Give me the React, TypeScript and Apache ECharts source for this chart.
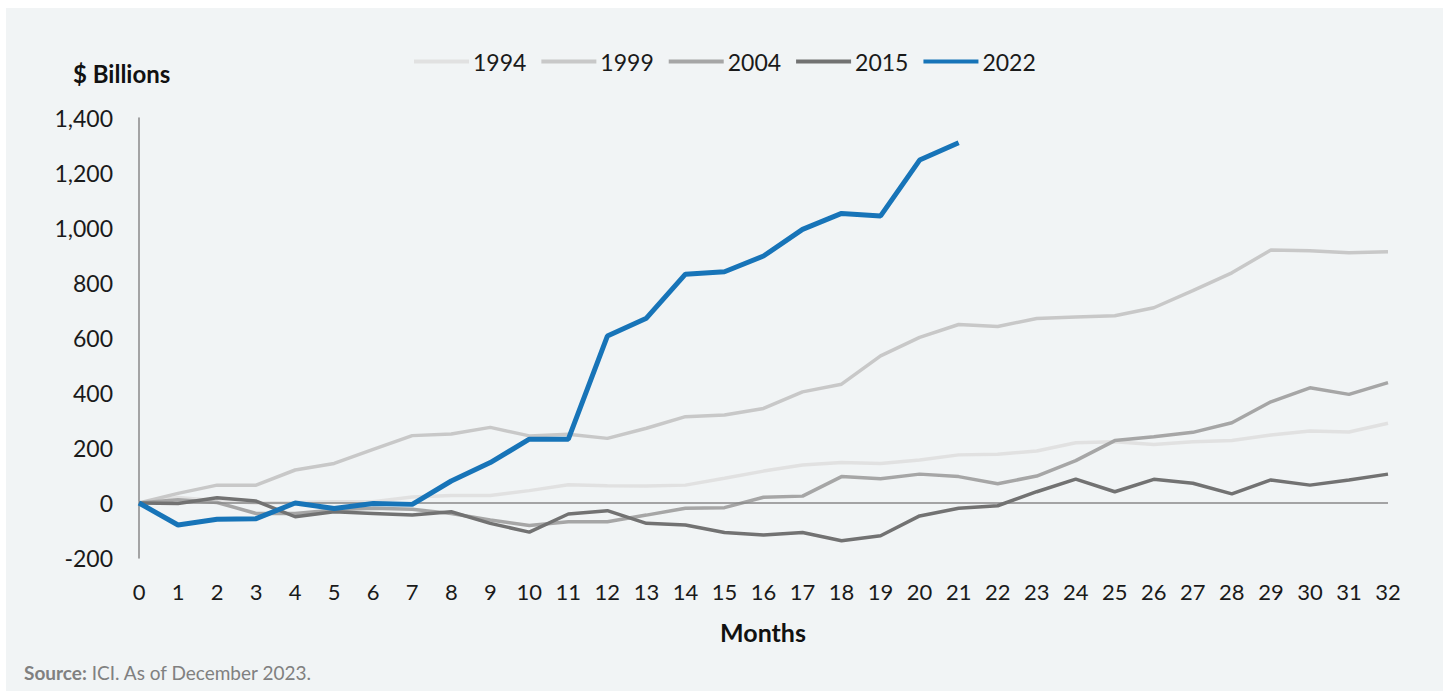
import React, { useEffect, useRef } from "react";
import * as echarts from "echarts";

const months = Array.from({ length: 33 }, (_, i) => String(i));
const seriesNames = ["1994", "1999", "2004", "2015", "2022"];
const y1994 = [0, 20, 8, 0, 2, 5, 5, 22, 27, 27, 45, 66, 63, 62, 65, 90, 116, 138, 147, 144, 156, 175, 177, 189, 219, 223, 213, 223, 227, 247, 262, 258, 290];
const y1999 = [0, 35, 65, 65, 120, 144, 195, 245, 251, 275, 244, 250, 235, 272, 314, 320, 344, 404, 432, 535, 602, 649, 642, 671, 676, 681, 710, 772, 837, 920, 917, 910, 914];
const y2004 = [0, 12, 2, -38, -38, -25, -19, -23, -38, -62, -82, -68, -68, -44, -19, -17, 21, 25, 96, 88, 105, 96, 70, 98, 154, 227, 241, 257, 292, 368, 419, 395, 438];
const y2015 = [0, -2, 19, 7, -50, -32, -38, -44, -32, -74, -106, -40, -28, -74, -80, -107, -116, -107, -137, -119, -47, -19, -10, 41, 87, 41, 86, 72, 33, 84, 65, 84, 105];
const y2022 = [0, -80, -59, -57, 0, -20, -2, -5, 80, 147, 232, 232, 607, 672, 832, 841, 898, 995, 1053, 1044, 1247, 1310];
const seriesData = [y1994, y1999, y2004, y2015, y2022];
const colors = ["#e1e1e1", "#c8c8c8", "#a6a6a6", "#727272", "#1774b8"];
const widths = [3.5, 3.5, 3.5, 3.5, 5];

const FONT = "Lato, 'Open Sans', sans-serif";

export default function App() {
  const ref = useRef<HTMLDivElement>(null);
  useEffect(() => {
    if (!ref.current) return;
    const chart = echarts.init(ref.current, null, { renderer: "svg" });
    const series: any[] = seriesNames.map((name, i) => ({
      name,
      type: "line",
      data: seriesData[i],
      symbol: "none",
      lineStyle: { color: colors[i], width: widths[i] },
      itemStyle: { color: colors[i] },
      z: 2 + i,
    }));
    series[0].markLine = {
      silent: true,
      symbol: "none",
      label: { show: false },
      lineStyle: { color: "#888888", width: 1.5, type: "solid" },
      data: [{ yAxis: 0 }],
    };
    chart.setOption({
      animation: false,
      backgroundColor: "#f1f4f5",
      textStyle: { fontFamily: FONT },
      legend: {
        data: seriesNames.map((n) => ({ name: n, icon: "rect" })),
        left: 408,
        top: 42,
        padding: 0,
        itemWidth: 55,
        itemHeight: 4,
        itemGap: 15,
        textStyle: { fontSize: 23, color: "#1a1a1a", fontFamily: FONT, padding: [0, 0, 0, -1] },
      },
      grid: { left: 133, right: 55, top: 110, bottom: 133 },
      xAxis: {
        type: "category",
        data: months,
        boundaryGap: false,
        axisLine: { show: false },
        axisTick: { show: false },
        axisLabel: { fontSize: 22, color: "#1a1a1a", margin: 22, interval: 0, fontFamily: FONT },
        splitLine: { show: false },
      },
      yAxis: {
        type: "value",
        min: -200,
        max: 1400,
        interval: 200,
        axisLine: { show: true, lineStyle: { color: "#888888", width: 1.5 } },
        axisTick: { show: false },
        splitLine: { show: false },
        axisLabel: {
          fontSize: 23,
          color: "#1a1a1a",
          margin: 26,
          fontFamily: FONT,
          formatter: (v: number) => v.toLocaleString("en-US"),
        },
      },
      graphic: [
        {
          type: "text",
          left: 67,
          top: 53,
          style: { text: "$ Billions", font: `bold 24px ${FONT}`, fill: "#111111" },
        },
        {
          type: "text",
          x: 757,
          y: 624,
          style: { text: "Months", font: `bold 25px ${FONT}`, fill: "#111111", textAlign: "center", textVerticalAlign: "middle" },
        },
        {
          type: "text",
          left: 18,
          top: 655,
          style: {
            text: "{b|Source:} ICI. As of December 2023.",
            font: `19px ${FONT}`,
            fill: "#808080",
            rich: {
              b: { fontWeight: "bold", fontSize: 19, fill: "#808080", fontFamily: FONT },
            },
          },
        },
      ],
      series,
    });
    return () => chart.dispose();
  }, []);
  return (
    <div style={{ position: "absolute", left: 6, top: 8, width: 1437, height: 683 }}>
      <div ref={ref} style={{ width: 1437, height: 683 }} />
    </div>
  );
}
